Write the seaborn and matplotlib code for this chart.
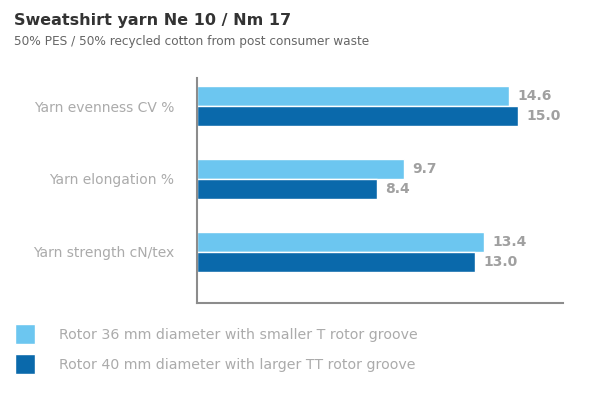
import matplotlib
matplotlib.use("Agg")
import matplotlib.pyplot as plt
import seaborn as sns
import pandas as pd

categories = ["Yarn evenness CV %", "Yarn elongation %", "Yarn strength cN/tex"]
series_names = ["Rotor 36 mm diameter with smaller T rotor groove",
                "Rotor 40 mm diameter with larger TT rotor groove"]
values_36 = [14.6, 9.7, 13.4]
values_40 = [15.0, 8.4, 13.0]
colors = ["#6cc6f0", "#0a69ab"]

df = pd.DataFrame({
    "category": categories * 2,
    "series": [series_names[0]] * 3 + [series_names[1]] * 3,
    "value": values_36 + values_40,
})

sns.set_theme(style="white")
plt.rcParams['font.family'] = ['DejaVu Sans']

fig = plt.figure(figsize=(6, 4), dpi=100)
ax = fig.add_axes([0.328, 0.2425, 0.61, 0.5625])

sns.barplot(data=df, y="category", x="value", hue="series", order=categories,
            hue_order=series_names, palette=colors, orient="h", width=0.56,
            saturation=1, ax=ax, legend=True)

for cont in ax.containers:
    ax.bar_label(cont, fmt="%.1f", padding=6, color="#a0a0a0",
                 fontsize=10, fontweight="bold")

ax.set_xlim(0, 17.1)
ax.set_ylim(2.70, -0.384)
ax.set_xlabel("")
ax.set_ylabel("")
ax.set_xticks([])
ax.tick_params(axis="y", length=0, pad=16, labelsize=10, labelcolor="#ababab")
for s in ["top", "right"]:
    ax.spines[s].set_visible(False)
for s in ["left", "bottom"]:
    ax.spines[s].set_color("#8c8c8c")
    ax.spines[s].set_linewidth(1.5)

handles, labels = ax.get_legend_handles_labels()
ax.get_legend().remove()
fig.legend(handles, labels, loc="upper left", bbox_to_anchor=(0.025, 0.19),
           frameon=False, fontsize=10.2, labelcolor="#ababab",
           handlelength=1.42, handleheight=1.8, handletextpad=1.68,
           labelspacing=0.7, borderaxespad=0, borderpad=0)

fig.text(0.023, 0.948, "Sweatshirt yarn Ne 10 / Nm 17", fontsize=11.5,
         fontweight="bold", color="#333333", va="center")
fig.text(0.023, 0.895, "50% PES / 50% recycled cotton from post consumer waste",
         fontsize=8.7, color="#666666", va="center")

fig.savefig("out.png", dpi=100, facecolor="white")
